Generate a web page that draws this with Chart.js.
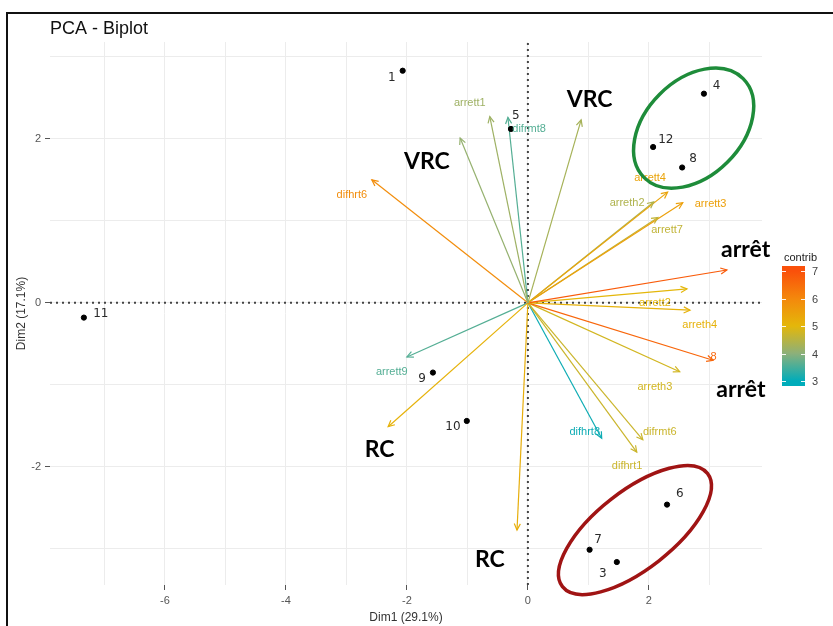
<!DOCTYPE html>
<html>
<head>
<meta charset="utf-8">
<script src="https://cdn.jsdelivr.net/npm/chart.js@4.4.1/dist/chart.umd.min.js"></script>
<style>
  body { margin: 0; background: #fff; }
  #wrap { width: 833px; height: 626px; position: relative; }
</style>
</head>
<body>
<div id="wrap"><canvas id="biplot"></canvas></div>
<script>
// individuals
const obsNames = ['1', '3', '4', '5', '6', '7', '8', '9', '10', '11', '12'];
const obsDim1 = [-2.07, 1.47, 2.91, -0.28, 2.30, 1.02, 2.55, -1.57, -1.01, -7.34, 2.07];
const obsDim2 = [2.83, -3.16, 2.55, 2.12, -2.46, -3.01, 1.65, -0.85, -1.44, -0.18, 1.90];
const obsLabelX = [-2.25, 1.24, 3.12, -0.20, 2.51, 1.16, 2.73, -1.75, -1.24, -7.06, 2.28];
const obsLabelY = [2.74, -3.30, 2.65, 2.28, -2.33, -2.89, 1.76, -0.93, -1.51, -0.13, 1.99];

// variables (arrows)
const varNames = ['arrett1', 'difrmt8', '', '', 'difhrt6', 'arrett4', 'arreth2', 'arrett3', 'arrett7', '',
                  'arrett2', 'arreth4', '8', 'arreth3', 'difrmt6', 'difhrt1', 'difhrt8', '', '', 'arrett9'];
const varDim1 = [-0.63, -0.33, -1.12, 0.88, -2.58, 2.31, 2.08, 2.56, 2.15, 3.29,
                 2.63, 2.68, 3.06, 2.51, 1.90, 1.80, 1.22, -0.18, -2.31, -2.00];
const varDim2 = [2.27, 2.26, 2.01, 2.23, 1.50, 1.35, 1.23, 1.22, 1.04, 0.40,
                 0.17, -0.09, -0.70, -0.84, -1.67, -1.82, -1.65, -2.77, -1.51, -0.66];
const varContrib = [4.2, 3.6, 4.1, 4.3, 5.9, 5.4, 4.4, 5.5, 4.6, 6.8,
                    5.0, 5.1, 6.6, 4.8, 4.7, 4.7, 3.1, 5.2, 5.1, 3.6];
const varLabelX = [-0.96, 0.02, null, null, -2.91, 2.02, 1.64, 3.02, 2.30, null,
                   2.10, 2.84, 3.07, 2.10, 2.18, 1.64, 0.94, null, null, -2.25];
const varLabelY = [2.44, 2.12, null, null, 1.32, 1.52, 1.22, 1.21, 0.89, null,
                   0.0, -0.27, -0.66, -1.02, -1.57, -1.99, -1.57, null, null, -0.84];

// hand-written group annotations
const groupText = ['VRC', 'VRC', 'arrêt', 'arrêt', 'RC', 'RC'];
const groupX = [-1.67, 1.02, 3.60, 3.52, -2.45, -0.63];
const groupY = [1.72, 2.48, 0.65, -1.06, -1.79, -3.13];

// circled clusters
const clusterX = [2.74, 1.77];
const clusterY = [2.13, -2.77];

// axes
const xMin = -7.9, xMax = 3.87, yMin = -3.44, yMax = 3.18;
const xTickLabels = [-6, -4, -2, 0, 2];
const yTickLabels = [-2, 0, 2];
const contribTicks = [3, 4, 5, 6, 7];
const contribMin = 3, contribMax = 7;

const FONT = '"Liberation Sans", Arial, sans-serif';

// teal -> yellow -> red, muted in the middle like ggplot's Lab blend
const contribStops = [[0, 172, 186], [140, 176, 122], [228, 183, 10], [244, 136, 12], [250, 80, 10]];

function contribColor(v) {
    let t = (v - contribMin) / (contribMax - contribMin);
    t = Math.min(1, Math.max(0, t)) * (contribStops.length - 1);
    const seg = Math.min(contribStops.length - 2, Math.floor(t));
    const f = t - seg;
    const a = contribStops[seg], b = contribStops[seg + 1];
    const c = a.map((ch, i) => Math.round(ch + (b[i] - ch) * f));
    return `rgb(${c[0]}, ${c[1]}, ${c[2]})`;
}

const datasets = [];
datasets.push({
    label: 'individuals',
    data: obsDim1.map((x, i) => ({ x: x, y: obsDim2[i] })),
    backgroundColor: '#000',
    borderColor: '#000',
    pointRadius: 2.6,
    showLine: false,
    order: 0
});
varDim1.forEach((x, i) => {
    datasets.push({
        label: varNames[i] || 'var' + i,
        data: [{ x: 0, y: 0 }, { x: x, y: varDim2[i] }],
        borderColor: contribColor(varContrib[i]),
        borderWidth: 1.2,
        pointRadius: 0,
        showLine: true,
        order: 1
    });
});
datasets.push({
    label: 'h0',
    data: [{ x: xMin, y: 0 }, { x: xMax, y: 0 }],
    borderColor: '#444', borderWidth: 2, borderDash: [2, 4],
    pointRadius: 0, showLine: true, order: 2
});
datasets.push({
    label: 'v0',
    data: [{ x: 0, y: yMin }, { x: 0, y: yMax }],
    borderColor: '#444', borderWidth: 2, borderDash: [2, 4],
    pointRadius: 0, showLine: true, order: 2
});

const biplotExtras = {
    id: 'biplotExtras',
    afterDatasetsDraw(chart) {
        const ctx = chart.ctx;
        const sx = chart.scales.x, sy = chart.scales.y;
        const ox = sx.getPixelForValue(0), oy = sy.getPixelForValue(0);
        ctx.save();
        // arrow heads
        varDim1.forEach((x, i) => {
            const tx = sx.getPixelForValue(x), ty = sy.getPixelForValue(varDim2[i]);
            const ang = Math.atan2(ty - oy, tx - ox);
            ctx.strokeStyle = contribColor(varContrib[i]);
            ctx.lineWidth = 1.2;
            ctx.beginPath();
            ctx.moveTo(tx - 7 * Math.cos(ang - 0.45), ty - 7 * Math.sin(ang - 0.45));
            ctx.lineTo(tx, ty);
            ctx.lineTo(tx - 7 * Math.cos(ang + 0.45), ty - 7 * Math.sin(ang + 0.45));
            ctx.stroke();
        });
        // variable labels
        ctx.font = '11px ' + FONT;
        ctx.textAlign = 'center';
        ctx.textBaseline = 'middle';
        varNames.forEach((name, i) => {
            if (!name) return;
            ctx.fillStyle = contribColor(varContrib[i]);
            ctx.fillText(name, sx.getPixelForValue(varLabelX[i]), sy.getPixelForValue(varLabelY[i]));
        });
        // individual labels
        ctx.font = '12px "DejaVu Sans", sans-serif';
        ctx.fillStyle = '#2a2a2a';
        obsNames.forEach((name, i) => {
            ctx.fillText(name, sx.getPixelForValue(obsLabelX[i]), sy.getPixelForValue(obsLabelY[i]));
        });
        ctx.restore();
    },
    afterDraw(chart) {
        const ctx = chart.ctx;
        const sx = chart.scales.x, sy = chart.scales.y;
        ctx.save();
        // frame
        ctx.strokeStyle = '#111';
        ctx.lineWidth = 2;
        ctx.beginPath();
        ctx.moveTo(833, 13);
        ctx.lineTo(7, 13);
        ctx.lineTo(7, 626);
        ctx.stroke();
        // title
        ctx.fillStyle = '#111';
        ctx.font = '18px ' + FONT;
        ctx.textAlign = 'left';
        ctx.textBaseline = 'middle';
        ctx.fillText('PCA - Biplot', 50, 29);
        // cluster ellipses
        const ell = [
            { color: '#1e8c3a', rx: 70, ry: 48, rot: -45 },
            { color: '#a01414', rx: 92, ry: 39, rot: -38 }
        ];
        clusterX.forEach((x, i) => {
            const e = ell[i];
            ctx.strokeStyle = e.color;
            ctx.lineWidth = 3.5;
            ctx.beginPath();
            ctx.ellipse(sx.getPixelForValue(x), sy.getPixelForValue(clusterY[i]), e.rx, e.ry,
                e.rot * Math.PI / 180, 0, Math.PI * 2);
            ctx.stroke();
        });
        // group annotations
        ctx.fillStyle = '#000';
        ctx.font = 'bold 23px Lato, "Open Sans", sans-serif';
        ctx.textAlign = 'center';
        groupText.forEach((t, i) => {
            ctx.fillText(t, sx.getPixelForValue(groupX[i]), sy.getPixelForValue(groupY[i]));
        });
        // contrib colour bar
        const barL = 782, barW = 23, barTop = 266, barBot = 386;
        const yOf = v => 381 - (v - contribMin) * (381 - 271) / (contribMax - contribMin);
        const grad = ctx.createLinearGradient(0, yOf(contribMin), 0, yOf(contribMax));
        contribTicks.forEach((v, k) => grad.addColorStop(k / (contribTicks.length - 1), contribColor(v)));
        ctx.fillStyle = grad;
        ctx.fillRect(barL, barTop, barW, barBot - barTop);
        ctx.strokeStyle = 'rgba(255,255,255,0.9)';
        ctx.lineWidth = 1;
        ctx.font = '11px ' + FONT;
        ctx.textAlign = 'left';
        contribTicks.forEach(v => {
            const y = Math.round(yOf(v)) + 0.5;
            ctx.beginPath();
            ctx.moveTo(barL, y); ctx.lineTo(barL + 4, y);
            ctx.moveTo(barL + barW - 4, y); ctx.lineTo(barL + barW, y);
            ctx.stroke();
            ctx.fillStyle = '#444';
            ctx.fillText(String(v), 812, y);
        });
        ctx.fillStyle = '#222';
        ctx.fillText('contrib', 784, 258);
        ctx.restore();
    }
};

new Chart(document.getElementById('biplot'), {
    type: 'scatter',
    data: { datasets: datasets },
    options: {
        responsive: true,
        maintainAspectRatio: false,
        animation: false,
        devicePixelRatio: 1,
        layout: { padding: { left: 8, top: 42, right: 71, bottom: 0 } },
        plugins: { legend: { display: false }, tooltip: { enabled: false } },
        scales: {
            x: {
                type: 'linear', position: 'bottom',
                min: xMin, max: xMax,
                afterFit: scale => { scale.height = 41; },
                border: { display: false },
                grid: {
                    color: '#ececec', lineWidth: 1, tickLength: 5,
                    tickColor: c => xTickLabels.includes(c.tick.value) ? '#555' : 'rgba(0,0,0,0)'
                },
                ticks: {
                    stepSize: 1, includeBounds: false, padding: 4,
                    color: '#555', font: { family: FONT, size: 11 },
                    callback: v => xTickLabels.includes(v) ? String(v) : ''
                },
                title: {
                    display: true, text: 'Dim1 (29.1%)', color: '#333',
                    font: { family: FONT, size: 12 }, padding: { top: 0, bottom: 1 }
                }
            },
            y: {
                type: 'linear', position: 'left',
                min: yMin, max: yMax,
                afterFit: scale => { scale.width = 42; },
                border: { display: false },
                grid: {
                    color: '#ececec', lineWidth: 1, tickLength: 5,
                    tickColor: c => yTickLabels.includes(c.tick.value) ? '#555' : 'rgba(0,0,0,0)'
                },
                ticks: {
                    stepSize: 1, includeBounds: false, padding: 4,
                    color: '#555', font: { family: FONT, size: 11 },
                    callback: v => yTickLabels.includes(v) ? String(v) : ''
                },
                title: {
                    display: true, text: 'Dim2 (17.1%)', color: '#333',
                    font: { family: FONT, size: 12 }, padding: { top: 6, bottom: 0 }
                }
            }
        }
    },
    plugins: [biplotExtras]
});
</script>
</body>
</html>
